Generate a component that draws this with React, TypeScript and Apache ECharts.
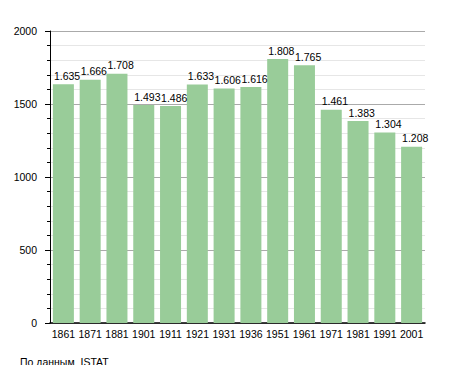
import React, { useEffect, useRef } from "react";
import * as echarts from "echarts";

const years = ["1861", "1871", "1881", "1901", "1911", "1921", "1931", "1936", "1951", "1961", "1971", "1981", "1991", "2001"];
const population = [1635, 1666, 1708, 1493, 1486, 1633, 1606, 1616, 1808, 1765, 1461, 1383, 1304, 1208];
const yTicks = [0, 500, 1000, 1500, 2000];
const sourceNote = "По данным  ISTAT";

const fmt = (v: number) => {
  const s = String(v);
  return s.length > 3 ? s.slice(0, s.length - 3) + "." + s.slice(s.length - 3) : s;
};

export default function App() {
  const ref = useRef<HTMLDivElement>(null);
  useEffect(() => {
    if (!ref.current) return;
    const chart = echarts.init(ref.current, null, { renderer: "svg" });
    const font = "'Liberation Sans', Arial, sans-serif";
    chart.setOption({
      animation: false,
      backgroundColor: "#ffffff",
      textStyle: { fontFamily: font },
      grid: { left: 50, right: 30, top: 31, bottom: 50, containLabel: false },
      xAxis: {
        type: "category",
        data: years,
        axisLine: { show: true, lineStyle: { color: "#000", width: 1.5 } },
        axisTick: { show: false },
        axisLabel: { color: "#000", fontSize: 10.5, fontFamily: font, margin: 5, interval: 0 },
      },
      yAxis: {
        type: "value",
        min: yTicks[0],
        max: yTicks[yTicks.length - 1],
        interval: 500,
        axisLine: { show: true, lineStyle: { color: "#000", width: 1 } },
        axisTick: { show: true, length: 5, lineStyle: { color: "#000" } },
        minorTick: { show: true, splitNumber: 5, length: 3, lineStyle: { color: "#000" } },
        axisLabel: { color: "#000", fontSize: 10.5, fontFamily: font, margin: 13, formatter: (v: number) => String(v) },
        splitLine: { show: true, lineStyle: { color: "#aaaaaa", width: 1 } },
        minorSplitLine: { show: true, lineStyle: { color: "#e6e6e6", width: 1 } },
      },
      series: [
        {
          type: "bar",
          data: population,
          barWidth: 21,
          itemStyle: { color: "#99cc99" },
          label: {
            show: true,
            position: [1, -3],
            align: "left",
            verticalAlign: "bottom",
            color: "#000",
            fontSize: 10.5,
            fontFamily: font,
            formatter: (p: any) => fmt(p.value),
          },
        },
      ],
      graphic: [
        {
          type: "text",
          left: 20,
          top: 356,
          style: { text: sourceNote, fill: "#000", font: `10.5px ${font}` },
        },
      ],
    });
    return () => chart.dispose();
  }, []);
  return <div ref={ref} style={{ width: 455, height: 373, margin: -8 }} />;
}
